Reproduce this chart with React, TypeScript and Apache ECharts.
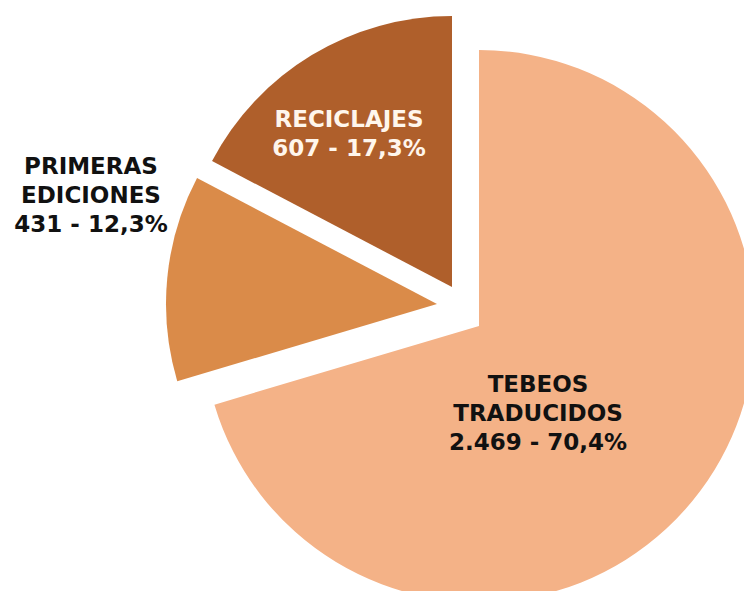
import React, { useEffect, useRef } from "react";
import * as echarts from "echarts";

const categories = ["TEBEOS\nTRADUCIDOS", "PRIMERAS\nEDICIONES", "RECICLAJES"];
const values = [2469, 431, 607];
const colors = ["#F4B287", "#DA8B49", "#AF5F2B"];
const labelColors = ["#111111", "#111111", "#FFF6EC"];

// per-slice explosion centres, radii and label anchors (pixels)
const centers: [number, number][] = [
  [479, 326],
  [437, 304],
  [452, 287],
];
const radii = [276, 271, 271];
const labelPos: [number, number][] = [
  [538, 413],
  [91, 195],
  [349, 133],
];

const total = values.reduce((a, b) => a + b, 0);

function fmtInt(v: number): string {
  const s = String(Math.round(v));
  return s.replace(/\B(?=(\d{3})+(?!\d))/g, ".");
}
function fmtPct(v: number): string {
  return ((v / total) * 100).toFixed(1).replace(".", ",") + "%";
}

export default function App() {
  const ref = useRef<HTMLDivElement>(null);
  useEffect(() => {
    if (!ref.current) return;
    const chart = echarts.init(ref.current, undefined, { renderer: "svg" });
    const series = categories.map((_, si) => ({
      type: "pie",
      center: centers[si],
      radius: radii[si],
      startAngle: 90,
      clockwise: true,
      silent: true,
      emphasis: { disabled: true },
      labelLine: { show: false },
      labelLayout: () => ({
        x: labelPos[si][0],
        y: labelPos[si][1],
        align: "center",
        verticalAlign: "middle",
      }),
      data: categories.map((name, i) => ({
        name,
        value: values[i],
        itemStyle: {
          color: i === si ? colors[i] : "rgba(0,0,0,0)",
          borderWidth: 0,
        },
        label: {
          show: i === si,
          position: "center",
          formatter: () => `${name}\n${fmtInt(values[i])} - ${fmtPct(values[i])}`,
          color: labelColors[i],
          fontFamily: "DejaVu Sans",
          fontSize: 23,
          lineHeight: 29,
          fontWeight: "bold",
          align: "center",
        },
      })),
    }));
    chart.setOption({
      animation: false,
      backgroundColor: "#ffffff",
      series,
    });
    return () => chart.dispose();
  }, []);
  return (
    <div
      ref={ref}
      style={{ position: "fixed", left: 0, top: 0, width: 744, height: 591 }}
    />
  );
}
